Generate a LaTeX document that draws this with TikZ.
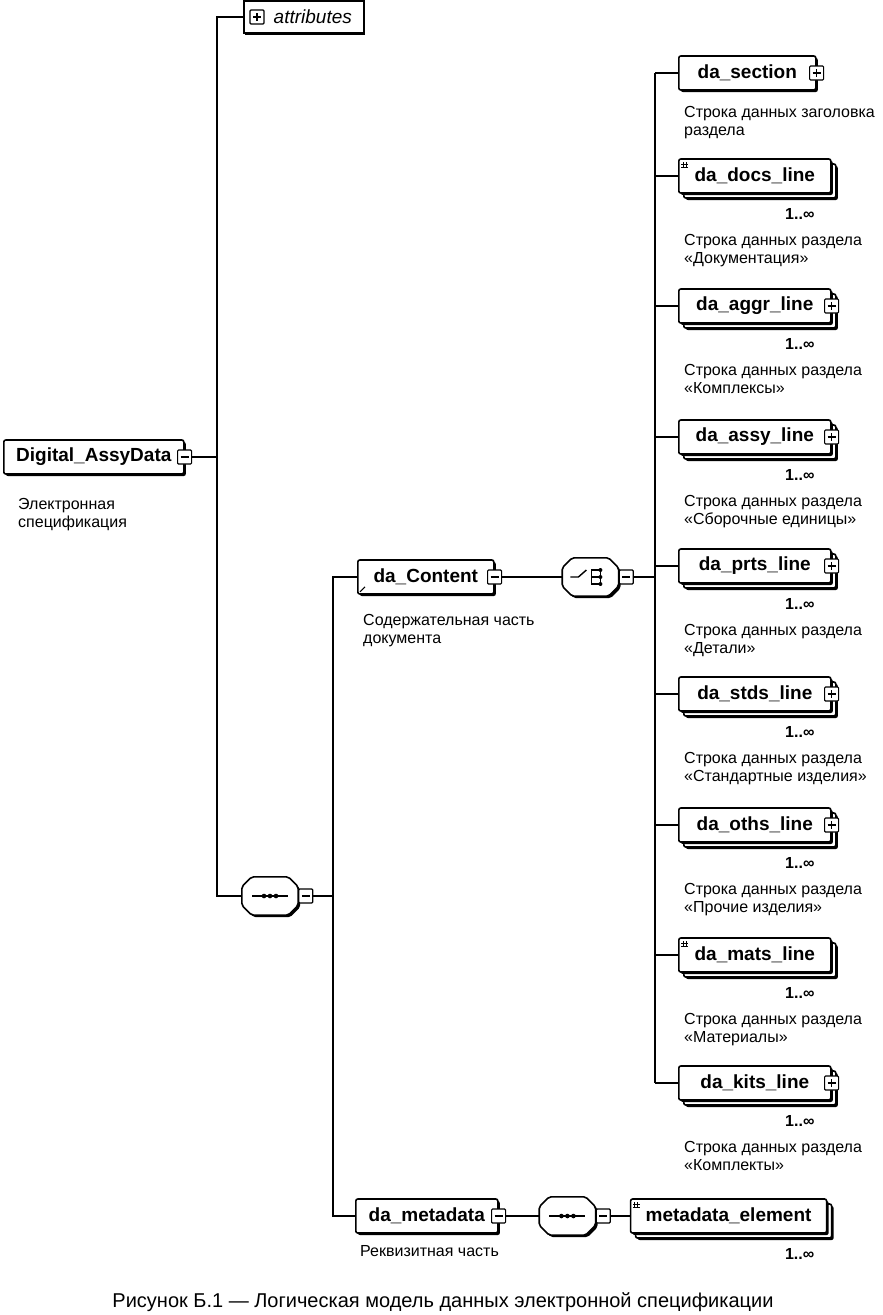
\documentclass[tikz,border=0pt]{standalone}
\usepackage{fontspec}
\setmainfont{Liberation Sans}
\usetikzlibrary{positioning,calc,shadows}

\newcommand{\namefont}{\bfseries\fontsize{19}{20}\selectfont}
\newcommand{\descfont}{\fontsize{16}{18}\selectfont}

\tikzset{
  wire/.style={line width=1.6pt},
  box/.style={draw, line width=1.6pt, rounded corners=2pt, fill=white, minimum height=34pt,
    inner sep=0pt, font=\namefont, anchor=west},
  shad/.style={drop shadow={shadow xshift=#1, shadow yshift=-#1, fill=black, opacity=1}},
  shad/.default=2pt,
  elem/.style={box, shad},
  repelem/.style={box, shad=7pt,
    copy shadow={shadow xshift=5pt, shadow yshift=-5pt, draw=black, line width=1.6pt, fill=white, opacity=1},
    shad},
  expbox/.style={draw, line width=1.2pt, fill=white, minimum size=14pt, inner sep=0pt, rounded corners=1pt},
  minusbox/.style={expbox, path picture={
    \draw[line width=1.4pt] ($(path picture bounding box.west)+(3,0)$) -- ($(path picture bounding box.east)+(-3,0)$);}},
  plusbox/.style={expbox, path picture={
    \draw[line width=1.4pt] ($(path picture bounding box.west)+(3,0)$) -- ($(path picture bounding box.east)+(-3,0)$);
    \draw[line width=1.4pt] ($(path picture bounding box.north)+(0,3)$) -- ($(path picture bounding box.south)+(0,-3)$);}},
  compo/.style={rectangle, minimum width=56pt, minimum height=38pt, inner sep=0pt},
  mult/.style={font=\bfseries\fontsize{16}{18}\selectfont, inner sep=0pt, anchor=north east},
  desc/.style={font=\descfont, align=left, anchor=north west, inner sep=0pt},
}

% octagon outline of a compositor node
\newcommand{\compoline}[1]{%
  \draw[line width=1.6pt, fill=white, rounded corners=2pt, shad]
    ($(#1.north west)+(10,0)$) -- ($(#1.north east)+(-10,0)$) -- ($(#1.north east)+(0,10)$)
    -- ($(#1.south east)+(0,-10)$) -- ($(#1.south east)+(-10,0)$) -- ($(#1.south west)+(10,0)$)
    -- ($(#1.south west)+(0,-10)$) -- ($(#1.north west)+(0,10)$) -- cycle;}

\begin{document}
\begin{tikzpicture}[x=1pt, y=-1pt]
  \useasboundingbox (0,0) rectangle (883,1315);

  % root element and its sequence
  \coordinate (bus1) at (217,0);
  \coordinate (bus2) at (333,0);
  \coordinate (bus3) at (655,0);

  \node[elem, minimum width=180pt] (root) at (3,457) {Digital\_AssyData};
  \node[minusbox] (root-m) at (root.east) {};
  \node[desc] (root-d) at ($(root.south west)+(15,23)$) {Электронная\\спецификация};

  \node[draw, line width=1.6pt, fill=white, minimum width=120pt, minimum height=32pt, anchor=west,
    font=\itshape\fontsize{19}{20}\selectfont, shad=1.5pt] (attr) at (243,17) {\hspace*{18pt}attributes};
  \node[plusbox] (attr-p) at ($(attr.west)+(14,0)$) {};

  \node[compo] (seq1) at (270,896) {};
  \compoline{seq1}
  \node[minusbox, right=0pt of seq1] (seq1-m) {};
  \draw[line width=1.4pt] ($(seq1.center)+(-18,0)$) -- ($(seq1.center)+(18,0)$);
  \foreach \dx in {-6,0,6}
    \fill ($(seq1.center)+(\dx,0)$) circle (2.3pt);

  \draw[wire] (root-m.east) -- (root-m.east -| bus1);
  \draw[wire] (attr.west) -- (attr.west -| bus1) |- (seq1.west);

  % content part
  \node[elem, minimum width=136pt] (cont) at (357,577) {da\_Content};
  \node[minusbox] (cont-m) at (cont.east) {};
  \draw[line width=1pt] ($(cont.south west)+(3,-3)$) -- ($(cont.south west)+(8,-8)$);
  \node[desc] (cont-d) at ($(cont.south west)+(6,19)$) {Содержательная часть\\документа};

  \node[compo, right=60pt of cont-m] (choice) {};
  \compoline{choice}
  \node[minusbox, right=0pt of choice] (choice-m) {};
  \draw[line width=1.4pt] ($(choice.center)+(-20,0)$) -- ($(choice.center)+(-12,0)$)
    -- ($(choice.center)+(-4,-7)$);
  \draw[line width=1.4pt] ($(choice.center)+(1,-7)$) -- ($(choice.center)+(1,7)$);
  \foreach \dy in {-7,0,7}{
    \draw[line width=1.4pt] ($(choice.center)+(1,\dy)$) -- ($(choice.center)+(10,\dy)$);
    \fill ($(choice.center)+(10,\dy)$) circle (2pt);
  }
  \draw[line width=1.4pt] ($(choice.center)+(10,-7)$) -- ($(choice.center)+(10,7)$);

  \draw[wire] (cont-m.east) -- (choice.west);
  \draw[wire] (choice-m.east) -- (choice-m.east -| bus3);

  % metadata part
  \node[elem, minimum width=142pt] (meta) at (355,1216) {da\_metadata};
  \node[minusbox] (meta-m) at (meta.east) {};
  \node[desc] (meta-d) at ($(meta.south west)+(5,11)$) {Реквизитная часть};

  \node[compo, right=33pt of meta-m] (seq2) {};
  \compoline{seq2}
  \node[minusbox, right=0pt of seq2] (seq2-m) {};
  \draw[line width=1.4pt] ($(seq2.center)+(-18,0)$) -- ($(seq2.center)+(18,0)$);
  \foreach \dx in {-6,0,6}
    \fill ($(seq2.center)+(\dx,0)$) circle (2.3pt);

  \node[repelem, minimum width=196pt, right=19pt of seq2-m] (melem) {metadata\_element};
  \draw[line width=0.8pt] ($(melem.north west)+(5,4)$) -- +(0,6) ($(melem.north west)+(8,4)$) -- +(0,6)
    ($(melem.north west)+(3,6)$) -- +(7,0) ($(melem.north west)+(3,9)$) -- +(7,0);
  \node[mult] (melem-n) at ($(melem.south east)+(-13,14)$) {1..∞};

  \draw[wire] (meta-m.east) -- (seq2.west);
  \draw[wire] (seq2-m.east) -- (melem.west);
  \draw[wire] (seq1-m.east) -- (seq1-m.east -| bus2);
  \draw[wire] (cont.west) -- (cont.west -| bus2) |- (meta.west);

  % choice children
  \node[elem, minimum width=137pt] (sec) at (678,73) {da\_section};
  \node[plusbox] (sec-p) at (sec.east) {};
  \node[desc] (sec-d) at ($(sec.south west)+(6,15)$) {Строка данных заголовка\\раздела};
  \draw[wire] (sec.west -| bus3) -- (sec.west);

  \foreach \id/\lbl/\y/\dsc in {
    docs/da\_docs\_line/176/{Строка данных раздела\\«Документация»},
    mats/da\_mats\_line/955/{Строка данных раздела\\«Материалы»}}{
    \node[repelem, minimum width=152pt] (\id) at (678,\y) {\lbl};
    \draw[line width=0.8pt] ($(\id.north west)+(5,4)$) -- +(0,6) ($(\id.north west)+(8,4)$) -- +(0,6)
      ($(\id.north west)+(3,6)$) -- +(7,0) ($(\id.north west)+(3,9)$) -- +(7,0);
    \node[mult] (\id-n) at ($(\id.south east)+(-17,14)$) {1..∞};
    \node[desc] (\id-d) at ($(\id.south west)+(6,40)$) {\dsc};
    \draw[wire] (\id.west -| bus3) -- (\id.west);
  }

  \foreach \id/\lbl/\y/\dsc in {
    aggr/da\_aggr\_line/306/{Строка данных раздела\\«Комплексы»},
    assy/da\_assy\_line/437/{Строка данных раздела\\«Сборочные единицы»},
    prts/da\_prts\_line/566/{Строка данных раздела\\«Детали»},
    stds/da\_stds\_line/694/{Строка данных раздела\\«Стандартные изделия»},
    oths/da\_oths\_line/825/{Строка данных раздела\\«Прочие изделия»},
    kits/da\_kits\_line/1083/{Строка данных раздела\\«Комплекты»}}{
    \node[repelem, minimum width=152pt] (\id) at (678,\y) {\lbl};
    \node[plusbox] (\id-p) at (\id.east) {};
    \node[mult] (\id-n) at ($(\id.south east)+(-17,14)$) {1..∞};
    \node[desc] (\id-d) at ($(\id.south west)+(6,40)$) {\dsc};
    \draw[wire] (\id.west -| bus3) -- (\id.west);
  }
  \draw[wire] (sec.west -| bus3) -- (kits.west -| bus3);

  \node[font=\fontsize{20}{22}\selectfont] (cap) at (443,1302)
    {Рисунок Б.1 — Логическая модель данных электронной спецификации};
\end{tikzpicture}
\end{document}
